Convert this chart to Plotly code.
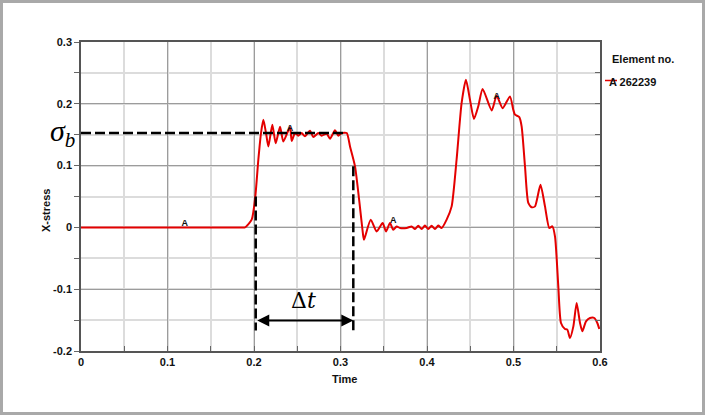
import plotly.graph_objects as go

# stress history of element 262239
time = [0.0, 0.10, 0.185, 0.1896, 0.1973, 0.2015, 0.2050, 0.2081, 0.2108, 0.2139,
        0.2166, 0.2212, 0.2251, 0.2301, 0.2339, 0.2416, 0.2436, 0.2474, 0.2512, 0.2551,
        0.2589, 0.2647, 0.2686, 0.2744, 0.2782, 0.2840, 0.2879, 0.2936, 0.2975, 0.3014,
        0.3072, 0.3110, 0.3168, 0.3264, 0.3272, 0.3349, 0.3418, 0.3487, 0.3526, 0.3572,
        0.3610, 0.3649, 0.3688, 0.3765, 0.3822, 0.3861, 0.3899, 0.3938, 0.3976, 0.4015,
        0.4053, 0.4092, 0.4130, 0.4169, 0.4227, 0.4285, 0.4342, 0.4400, 0.4450, 0.4497,
        0.4543, 0.4593, 0.4643, 0.4748, 0.4805, 0.4875, 0.4959, 0.4998, 0.5017, 0.5067,
        0.5094, 0.5133, 0.5171, 0.5210, 0.5249, 0.5312, 0.5364, 0.5414, 0.5449, 0.5480,
        0.5518, 0.5549, 0.5595, 0.5622, 0.5653, 0.5692, 0.5730, 0.5769, 0.5796, 0.5838,
        0.5884, 0.5934, 0.5969, 0.5992]
stress = [0.0, 0.0, 0.0, 0.0, 0.0125, 0.05, 0.1095, 0.1527, 0.174, 0.1527,
          0.131, 0.166, 0.136, 0.163, 0.139, 0.162, 0.140, 0.1527, 0.1484, 0.1527,
          0.1473, 0.1565, 0.1462, 0.1527, 0.1484, 0.1516, 0.1435, 0.157, 0.1484, 0.1527,
          0.1527, 0.131, 0.0987, -0.015, -0.020, 0.0125, -0.0065, 0.007, -0.0065, 0.007,
          -0.004, 0.0016, -0.001, -0.001, 0.0016, -0.0027, 0.0027, -0.0027, 0.003, -0.0027,
          0.0027, -0.0027, 0.003, -0.001, 0.0125, 0.034, 0.1095, 0.201, 0.239, 0.2066,
          0.1754, 0.196, 0.224, 0.1893, 0.213, 0.193, 0.212, 0.190, 0.1824, 0.1786,
          0.1635, 0.0987, 0.0395, 0.0325, 0.0341, 0.069, 0.034, -0.001, 0.0017, -0.015,
          -0.0955, -0.1547, -0.1644, -0.1654, -0.1789, -0.1601, -0.1222, -0.1547, -0.1681, -0.152,
          -0.1466, -0.1466, -0.1547, -0.1644]

# "A" curve markers
mark_t = [0.12, 0.2416, 0.361, 0.4805, 0.601]
mark_v = [0.006, 0.16, 0.011, 0.212, -0.156]

# annotation values
sigma_b = 0.1527
t_start = 0.202
t_end = 0.3148
arrow_v = -0.1505

x_ticks = [0, 0.1, 0.2, 0.3, 0.4, 0.5, 0.6]
x_labels = ["0", "0.1", "0.2", "0.3", "0.4", "0.5", "0.6"]
y_ticks = [-0.2, -0.1, 0, 0.1, 0.2, 0.3]
y_labels = ["-0.2", "-0.1", "0", "0.1", "0.2", "0.3"]

L, R, T, B = 81, 600, 42, 351
W, H = 705, 415


def px(x):
    return (x - L) / (R - L)


def py(y):
    return (B - y) / (B - T)


tick_font = dict(family="Liberation Sans, Arial", size=11, color="#111", weight="bold")
black = "#000"
red = "rgb(228,0,0)"
dash = "10px,4px"

fig = go.Figure()
fig.add_trace(go.Scatter(x=time, y=stress, mode="lines",
                         line=dict(color=red, width=2, shape="spline", smoothing=0.6),
                         showlegend=False, hoverinfo="skip"))
fig.add_trace(go.Scatter(x=mark_t, y=mark_v, mode="text", text=["A"] * len(mark_t),
                         textfont=dict(family="Liberation Sans, Arial", size=9, color="#111", weight="bold"),
                         cliponaxis=False, showlegend=False, hoverinfo="skip"))
fig.add_trace(go.Scatter(x=[0], y=[0], yaxis="y2", mode="none", showlegend=False, hoverinfo="skip"))

# dashed guide lines
fig.add_shape(type="line", x0=0, x1=0.307, y0=sigma_b, y1=sigma_b,
              line=dict(color=black, width=2.5, dash=dash))
fig.add_shape(type="line", x0=t_start, x1=t_start, y0=0.05, y1=-0.167,
              line=dict(color=black, width=2.5, dash=dash))
fig.add_shape(type="line", x0=t_end, x1=t_end, y0=0.099, y1=-0.167,
              line=dict(color=black, width=2.5, dash=dash))

# double arrow for delta t
fig.add_annotation(x=t_end, y=arrow_v, ax=t_start, ay=arrow_v, axref="x", ayref="y",
                   xref="x", yref="y", text="", showarrow=True, arrowside="end+start",
                   arrowhead=2, arrowsize=1.2, arrowwidth=2, arrowcolor=black)
fig.add_annotation(x=(t_start + t_end) / 2 - 0.0015, y=-0.1186, xref="x", yref="y",
                   text="Δ<i>t</i>", showarrow=False,
                   font=dict(family="DejaVu Serif", size=22, color=black))
fig.add_annotation(x=px(77), y=sigma_b, xref="paper", yref="y", xanchor="right",
                   text="<i>σ<sub>b</sub></i>", showarrow=False,
                   font=dict(family="Liberation Serif", size=30, color=black))

# axis titles
fig.add_annotation(x=px(38), y=py(211), xref="paper", yref="paper", text="X-stress",
                   textangle=-90, showarrow=False, font=tick_font)
fig.add_annotation(x=px(344), y=py(387), xref="paper", yref="paper", text="Time",
                   showarrow=False, font=tick_font)

# legend
fig.add_annotation(x=px(610), y=py(51), xref="paper", yref="paper", xanchor="left",
                   text="Element no.", showarrow=False, font=tick_font)
fig.add_annotation(x=px(607), y=py(74), xref="paper", yref="paper", xanchor="left",
                   text="A 262239", showarrow=False, font=tick_font)
fig.add_shape(type="line", xref="paper", yref="paper", x0=px(605), x1=px(617),
              y0=py(80.5), y1=py(80.5), line=dict(color=red, width=1.5))

# outer frame
fig.add_shape(type="rect", xref="paper", yref="paper", x0=px(1.5), x1=px(703.5),
              y0=py(413.5), y1=py(1.5), line=dict(color="#a9a9a9", width=3), layer="below")

fig.update_layout(
    width=W, height=H,
    margin=dict(l=L, r=W - R, t=T, b=H - B),
    paper_bgcolor="white", plot_bgcolor="white",
    xaxis=dict(range=[0, 0.6], tickvals=x_ticks, ticktext=x_labels, tickfont=tick_font,
               showgrid=True, gridcolor="#9c9c9c", gridwidth=1,
               ticks="inside", ticklen=5, tickcolor="#666",
               minor=dict(dtick=0.05, showgrid=True, gridcolor="#dcdcdc", gridwidth=1.5,
                          ticks="inside", ticklen=5, tickcolor="#666"),
               showline=True, linecolor="#555", linewidth=1.5, mirror=True, zeroline=False),
    yaxis=dict(range=[-0.2, 0.3], tickvals=y_ticks, ticktext=y_labels, tickfont=tick_font,
               showgrid=True, gridcolor="#9c9c9c", gridwidth=1,
               ticks="outside", ticklen=5, tickcolor="#666",
               minor=dict(dtick=0.05, showgrid=True, gridcolor="#dcdcdc", gridwidth=1.5,
                          ticks="outside", ticklen=5, tickcolor="#666"),
               showline=True, linecolor="#555", linewidth=1.5, mirror=True, zeroline=False),
    yaxis2=dict(range=[-0.2, 0.3], overlaying="y", side="right", dtick=0.05,
                ticks="inside", ticklen=5, tickcolor="#666", showticklabels=False,
                showgrid=False, zeroline=False),
    showlegend=False,
)

# drop the page's default body margin so the figure sits at the window corner
fig.write_html("out.html", config={"displayModeBar": False},
               post_script="document.body.style.margin='0';document.body.style.overflow='hidden';")
